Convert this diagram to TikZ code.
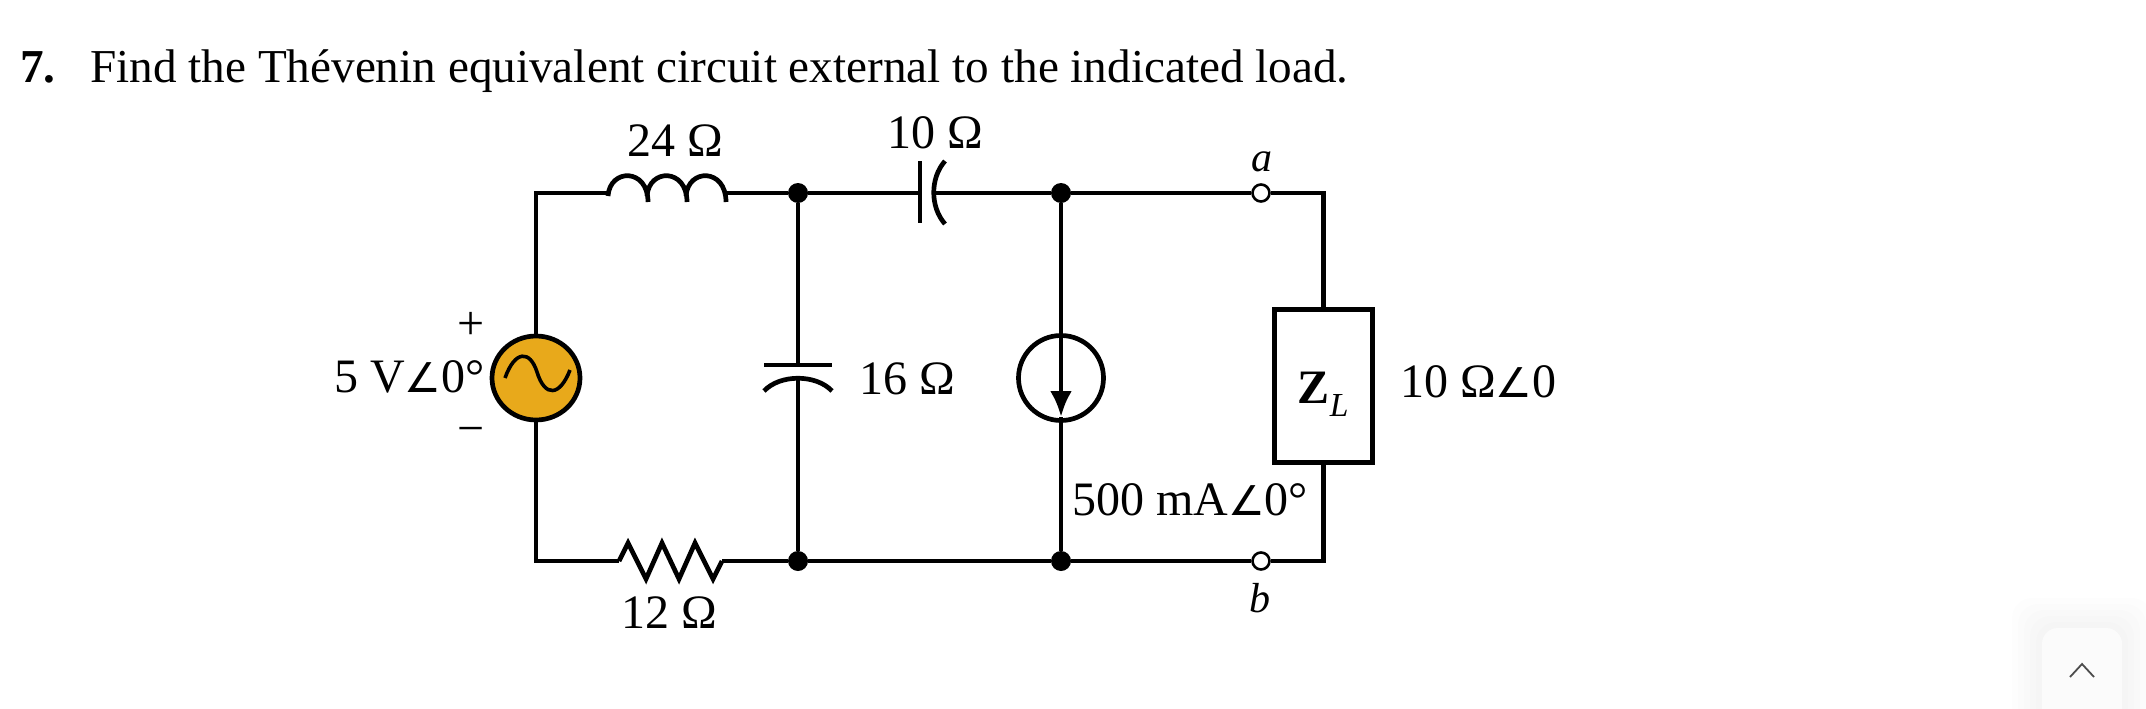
\documentclass[tikz,border=0pt]{standalone}
\usepackage{fontspec}
\setmainfont{Liberation Serif}
\newfontfamily\symfont{DejaVu Sans}
\usetikzlibrary{positioning,arrows.meta,shapes.geometric}
\newcommand{\ang}{{\symfont\fontsize{41}{41}\selectfont ∠}}
\definecolor{srcfill}{HTML}{E8A91B}
\tikzset{
wire/.style={line width=4.7pt},
dotnode/.style={circle, fill=black, inner sep=0pt, minimum size=20pt},
termnode/.style={circle, draw, fill=white, line width=2.6pt, inner sep=0pt, minimum size=17pt},
lbl/.style={font=\fontsize{48}{48}\selectfont, inner sep=0pt, anchor=base},
ilbl/.style={font=\fontsize{42}{42}\selectfont\itshape, inner sep=0pt, anchor=base},
}
\begin{document}
\begin{tikzpicture}[x=1pt, y=-1pt]
  \useasboundingbox (0,0) rectangle (2146,709);
  % heading
  \node[anchor=base west, inner sep=0pt, font=\fontsize{47.2}{47.2}\selectfont\bfseries] (num) at (20,82) {7.};
  \node[anchor=base west, inner sep=0pt, font=\fontsize{47.2}{47.2}\selectfont] (head) at (90,82) {Find the Thévenin equivalent circuit external to the indicated load.};
  % end points of the parts
  \coordinate (indl) at (608,193);
  \coordinate (indr) at (726,193);
  \coordinate (resl) at (619,561);
  \coordinate (resr) at (722,561);
  \coordinate (capl) at (920,193);
  \coordinate (capr) at (935,193);
  \coordinate (shtop) at (798,365);
  \coordinate (shbot) at (798,378);
  \coordinate (tip) at (1061,417);
  % junctions and terminals
  \node[dotnode] (n1) at (798,193) {};
  \node[dotnode] (n2) at (1061,193) {};
  \node[dotnode] (n3) at (798,561) {};
  \node[dotnode] (n4) at (1061,561) {};
  % sources and load
  \node[draw, ellipse, wire, fill=srcfill, minimum width=88pt, minimum height=84pt, inner sep=0pt] (src) at (536,378) {};
  \node[draw, circle, wire, minimum size=85pt, inner sep=0pt] (isrc) at (1061,378) {};
  \node[draw, wire, line width=5pt, minimum width=98pt, minimum height=153pt, inner sep=0pt] (load) at (1323.5,385.5) {};
  % wires
  \draw[wire] (indl) -| (src.north);
  \draw[wire] (src.south) |- (resl);
  \draw[wire] (indr) -- (n1) -- (capl);
  \draw[wire] (capr) -- (n2);
  \draw[wire] (resr) -- (n3) -- (n4);
  \draw[wire] (n1) -- (shtop);
  \draw[wire] (shbot) -- (n3);
  \draw[wire, -{Latex[length=26pt,width=22pt]}] (n2) -- (tip);
  \draw[wire] (tip) -- (n4);
  \node[termnode] (ta) at (1261,193) {};
  \node[termnode] (tb) at (1261,561) {};
  \draw[wire] (n2) -- (ta) -| (load.north);
  \draw[wire] (n4) -- (tb) -| (load.south);
  % inductor
  \foreach \x in {0,39,78}
  \draw[wire] (608+\x,196) .. controls (610+\x,168) and (648+\x,168) .. (648+\x,202);
  % resistor
  \draw[wire] (resl) -- (628,543) -- (646,579) -- (662,543) -- (679,579) -- (695,543) -- (713,579) -- (resr);
  % series capacitor
  \draw[wire] (920,161) -- (920,223);
  \draw[wire] (945,161) .. controls (930,178) and (930,207) .. (945,224);
  % shunt capacitor
  \draw[wire] (764,365) -- (832,365);
  \draw[wire] (764,391) .. controls (780,374) and (816,374) .. (832,391);
  % sine in the source
  \draw[line width=3.6pt] (505,378) .. controls (515,350) and (530,350) .. (537,372) .. controls (545,398) and (560,396) .. (570,370);
  % labels
  \node[lbl] (l24) at (675,156) {24 Ω};
  \node[lbl] (l10) at (935,148) {10 Ω};
  \node[lbl] (l12) at (669,628) {12 Ω};
  \node[lbl] (l16) at (907,394) {16 Ω};
  \node[lbl, anchor=base east] (lv) at (485,392) {5 V\ang 0°};
  \node[lbl] (lp) at (471,339) {+};
  \node[lbl] (lm) at (471,444) {−};
  \node[ilbl] (la) at (1262,171) {a};
  \node[ilbl] (lb) at (1260,612) {b};
  \node[lbl] (lz) at ([yshift=-18pt]load.center) {\textbf{Z}\textsubscript{\textit{L}}};
  \node[lbl, anchor=base west] (lzv) at (1400,397) {10 Ω\ang 0};
  \node[lbl, anchor=base west] (li) at (1072,515) {500 mA\ang 0°};
  % scroll button
  \foreach \s in {30,24,18,12,6}
  \fill[black, opacity=.006, rounded corners=20pt] (2042-\s,628-\s) rectangle (2122+\s,740);
  \fill[white!98.5!black, rounded corners=16pt] (2042,628) rectangle (2122,740);
  \draw[line width=1.8pt, color=black!70] (2070,677) -- (2082,664) -- (2094,677);
\end{tikzpicture}
\end{document}
